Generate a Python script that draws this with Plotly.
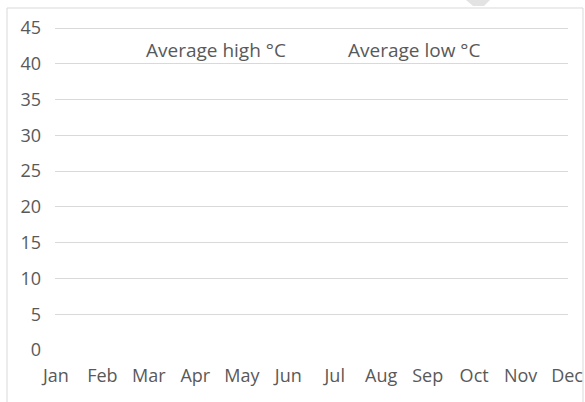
import plotly.graph_objects as go

months = ["Jan", "Feb", "Mar", "Apr", "May", "Jun", "Jul", "Aug", "Sep", "Oct", "Nov", "Dec"]
avg_high = [None, None, None, None, None, None, None, None, None, None, None, None]
avg_low = [None, None, None, None, None, None, None, None, None, None, None, None]
y_ticks = [0, 5, 10, 15, 20, 25, 30, 35, 40, 45]

W, H = 585, 402
L, R, T, B = 55, 568, 10.0, 350.0
Y45 = 28.0
pw, ph = R - L, B - T
YMAX = 45 * (B - T) / (B - Y45)  # headroom so the 45 gridline sits at the right height

fig = go.Figure()
idx = list(range(len(months)))
fig.add_trace(go.Scatter(x=idx, y=avg_high, name="Average high °C", mode="lines",
                         line=dict(width=0, color="rgba(0,0,0,0)")))
fig.add_trace(go.Scatter(x=idx, y=avg_low, name="Average low °C", mode="lines",
                         line=dict(width=0, color="rgba(0,0,0,0)")))

def px(x):
    return (x - L) / pw

def py(y):
    return (B - y) / ph

fig.update_layout(
    width=W, height=H,
    margin=dict(l=L, r=W - R, t=T, b=H - B, pad=0, autoexpand=False),
    paper_bgcolor="white", plot_bgcolor="white",
    font=dict(family="Open Sans", size=18, color="#595959"),
    showlegend=True,
    legend=dict(orientation="h", x=px(106), y=py(50), xanchor="left", yanchor="middle",
                bgcolor="rgba(0,0,0,0)", font=dict(size=19, color="#595959"),
                itemwidth=30, entrywidth=157, entrywidthmode="pixels"),
    xaxis=dict(range=[-0.02, 11.02], tickvals=idx, ticktext=months, showgrid=False,
               zeroline=False, showline=False, ticks="", ticklabelstandoff=13,
               fixedrange=True),
    yaxis=dict(range=[0, YMAX], tickvals=y_ticks, showgrid=True, gridcolor="#d9d9d9",
               gridwidth=1, zeroline=False, showline=False, ticks="",
               ticklabelstandoff=13, fixedrange=True),
    shapes=[
        dict(type="rect", xref="paper", yref="paper", x0=px(7), x1=px(583),
             y0=py(420), y1=py(8), line=dict(color="#d9d9d9", width=1),
             fillcolor="rgba(0,0,0,0)", layer="below"),
        dict(type="path", xref="paper", yref="paper",
             path=f"M {px(466)} {py(0)} L {px(490)} {py(0)} L {px(484)} {py(6)} L {px(473)} {py(6)} Z",
             fillcolor="#e3e3e3", line=dict(width=0)),
    ],
)

fig.write_html("out.html", config={"displayModeBar": False},
               post_script="document.body.style.margin='0';")
